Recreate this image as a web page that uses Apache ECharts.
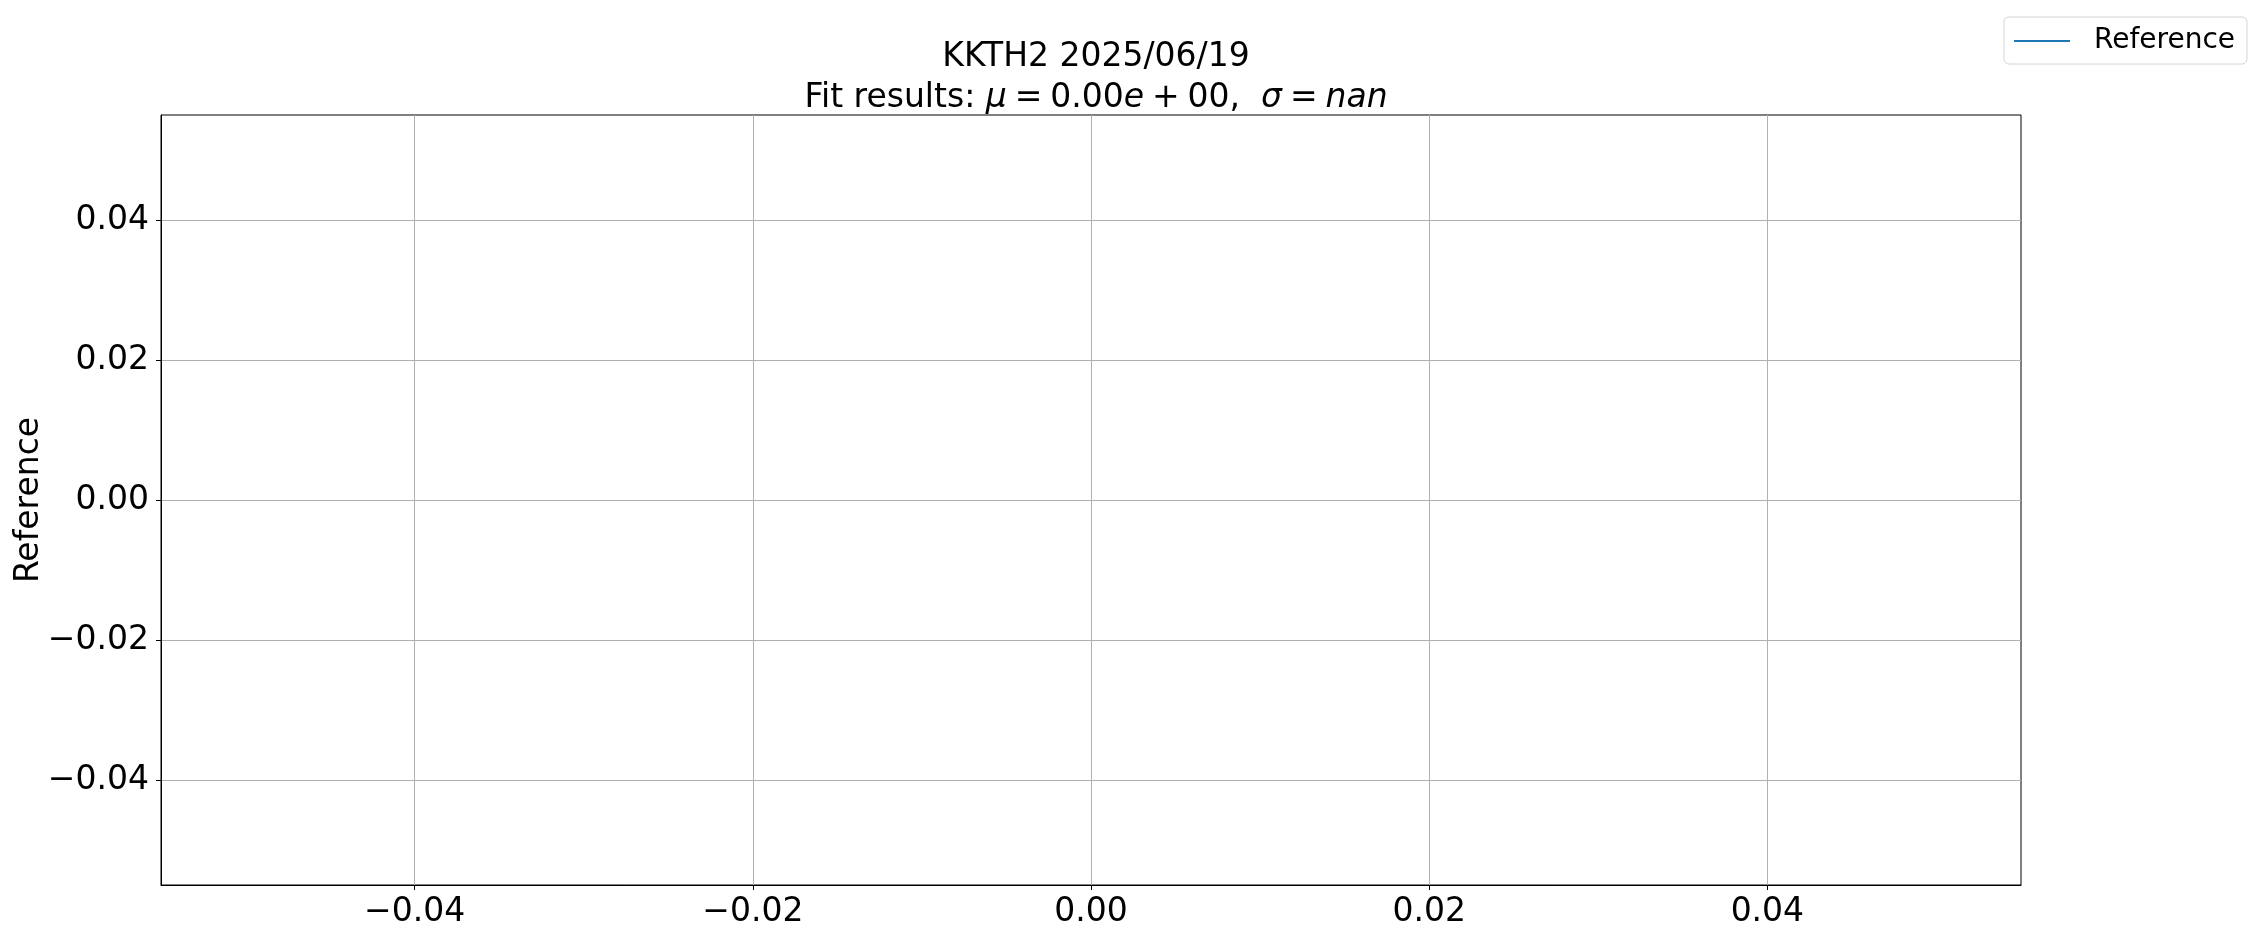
<!DOCTYPE html>
<html>
<head>
<meta charset="utf-8">
<script src="https://cdn.jsdelivr.net/npm/echarts@6/dist/echarts.min.js"></script>
<style>
html,body{margin:0;padding:0;background:#fff;}
#chart{width:2257px;height:938px;}
</style>
</head>
<body>
<div id="chart"></div>
<script>
// ---- data (the reference plot contains no data points) ----
const xValues = [];
const referenceValues = [];
const seriesName = 'Reference';
const xTicks = [-0.04, -0.02, 0.00, 0.02, 0.04];
const yTicks = [-0.04, -0.02, 0.00, 0.02, 0.04];
const xRange = [-0.055, 0.055];
const yRange = [-0.055, 0.055];
const titleLine1 = 'KKTH2 2025/06/19';
const fitMu = '0.00e+00';
const fitSigma = 'nan';

const FONT = 'DejaVu Sans';
const fmt = v => {
  const s = Math.abs(v) < 1e-12 ? '0.00' : v.toFixed(2);
  return s.replace('-', '\u2212');
};

const chart = echarts.init(document.getElementById('chart'), null, {renderer: 'canvas'});

const axisCommon = {
  type: 'value',
  axisLine: {show: true, onZero: false, lineStyle: {color: '#000', width: 1}},
  axisTick: {show: true, inside: false, length: 5, lineStyle: {color: '#000', width: 1}},
  splitLine: {show: true, lineStyle: {color: '#b0b0b0', width: 1}},
};

const option = {
  backgroundColor: '#ffffff',
  animation: false,
  title: [
    {
      text: titleLine1,
      left: 1091, top: 32, textAlign: 'center',
      textStyle: {fontFamily: FONT, fontSize: 33, fontWeight: 'normal', color: '#000', lineHeight: 40}
    },
    {
      text: '{n|Fit results: }{i|\u03bc}{s| }{n|=}{s| }{n|0.00}{i|e}{s| }{n|+}{s| }{n|00,  }{i|\u03c3}{s| }{n|=}{s| }{i|nan}',
      left: 1091, top: 73, textAlign: 'center',
      textStyle: {
        fontFamily: FONT, fontSize: 33, fontWeight: 'normal', color: '#000', lineHeight: 40,
        rich: {
          n: {fontFamily: FONT, fontSize: 33, color: '#000', fontStyle: 'normal', fontWeight: 'normal'},
          i: {fontFamily: FONT, fontSize: 33, color: '#000', fontStyle: 'italic', fontWeight: 'normal'},
          s: {fontFamily: FONT, fontSize: 25, color: '#000', fontStyle: 'normal', fontWeight: 'normal'}
        }
      }
    }
  ],
  legend: {
    data: [{name: seriesName, icon: 'rect'}],
    left: 2004, top: 17,
    orient: 'vertical',
    padding: [10, 12, 9, 10],
    itemWidth: 56, itemHeight: 2,
    borderColor: '#d4d4d4', borderWidth: 1, borderRadius: 5,
    backgroundColor: '#fff',
    textStyle: {fontFamily: FONT, fontSize: 28, color: '#000', padding: [2, 0, 0, 19]}
  },
  grid: {
    left: 161, right: 236, top: 115, bottom: 53,
    show: true, borderColor: '#000', borderWidth: 1, backgroundColor: 'transparent',
    containLabel: false, outerBoundsMode: 'none'
  },
  xAxis: Object.assign({}, axisCommon, {
    min: xRange[0], max: xRange[1],
    axisTick: Object.assign({}, axisCommon.axisTick, {customValues: xTicks}),
    axisLabel: {
      customValues: xTicks, margin: 11,
      fontFamily: FONT, fontSize: 33, color: '#000',
      formatter: v => fmt(v)
    },
    splitLine: Object.assign({}, axisCommon.splitLine, {customValues: xTicks})
  }),
  yAxis: Object.assign({}, axisCommon, {
    min: yRange[0], max: yRange[1],
    name: 'Reference', nameLocation: 'middle', nameRotate: 90, nameGap: 115,
    nameMoveOverlap: false,
    nameTextStyle: {fontFamily: FONT, fontSize: 33, color: '#000'},
    axisTick: Object.assign({}, axisCommon.axisTick, {customValues: yTicks}),
    axisLabel: {
      customValues: yTicks, margin: 12,
      fontFamily: FONT, fontSize: 33, color: '#000',
      formatter: v => fmt(v)
    },
    splitLine: Object.assign({}, axisCommon.splitLine, {customValues: yTicks})
  }),
  series: [{
    name: seriesName,
    type: 'line',
    data: xValues.map((x, i) => [x, referenceValues[i]]),
    symbol: 'none', showSymbol: false,
    lineStyle: {color: '#1f77b4', width: 2},
    itemStyle: {color: '#1f77b4'}
  }]
};
chart.setOption(option);
</script>
</body>
</html>
